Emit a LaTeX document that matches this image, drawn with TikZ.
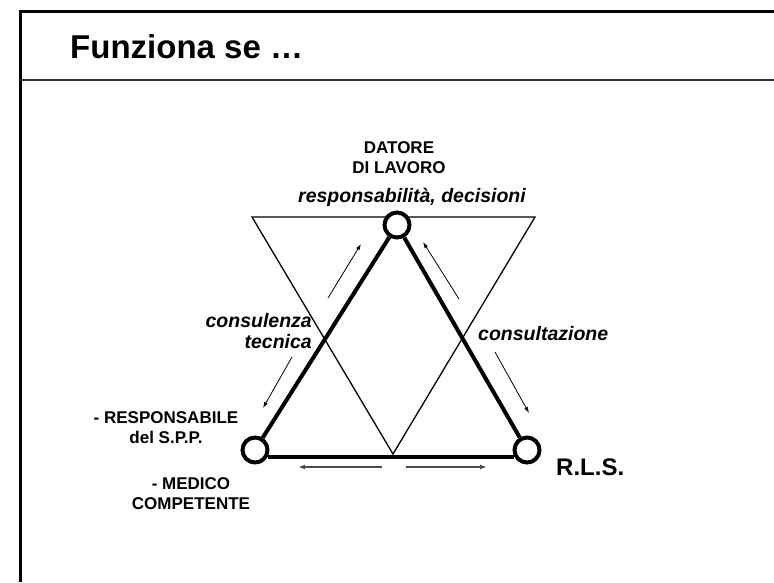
\documentclass[tikz,border=0pt]{standalone}
\usepackage{fontspec}
\setmainfont{Liberation Sans}
\usetikzlibrary{arrows.meta,positioning}
\tikzset{
  joint/.style={circle, draw, line width=4pt, fill=white,
                minimum size=25pt, inner sep=0pt},
  side/.style={line width=4pt},
  funnel/.style={line width=1.3pt, line join=miter},
  flow/.style={-{Latex[length=6pt,width=4pt]}, line width=0.8pt},
  flowgrey/.style={-{Latex[length=7pt,width=5pt]}, line width=2.2pt, draw=black!70},
  role/.style={font=\fontsize{17}{20}\selectfont\bfseries, align=center, inner sep=0pt},
  duty/.style={font=\fontsize{19.5}{21}\selectfont\bfseries\itshape, inner sep=0pt},
}

\begin{document}
\begin{tikzpicture}[x=1pt, y=-1pt]
  \useasboundingbox (0,0) rectangle (774,582);

  % slide frame
  \draw[line width=3pt] (20,582) -- (20,11) -- (774,11);
  \draw[line width=1.2pt, black!80] (20,80) -- (774,80);
  \node[anchor=base west, inner sep=0pt, font=\fontsize{33}{38}\selectfont\bfseries]
        (title) at (70,58) {Funziona se …};

  % inverted triangle
  \draw[funnel] (252,217) -- (535,217) -- (393,454) -- cycle;

  % the three roles
  \node[joint] (datore) at (397,225) {};
  \node[joint] (spp) at (255,450) {};
  \node[joint] (rls) at (527,450) {};

  \draw[side] (datore) -- (spp);
  \draw[side] (datore) -- (rls);
  \draw[side] (spp.-30) -- (rls.-150);

  % flows
  \draw[flow] (328,298) -- (361,244);
  \draw[flow] (459,299) -- (423,242);
  \draw[flow] (292,357) -- (263,408);
  \draw[flow] (495,352) -- (529,413);
  \draw[flowgrey] (382,467) -- (298,467);
  \draw[flowgrey] (406,467) -- (487,467);

  % labels
  \node[role, anchor=base] (datoreLbl) at (399,173) {DATORE\\DI LAVORO};
  \node[duty, anchor=base] (respLbl) at (412,202) {responsabilità, decisioni};
  \node[duty, anchor=base east, align=right] (consLbl) at (312,348) {consulenza\\tecnica};
  \node[duty, anchor=base west] (consultLbl) at (478,340) {consultazione};
  \node[role, anchor=base] (sppLbl) at (166,443) {- RESPONSABILE\\del S.P.P.};
  \node[role, anchor=base] (medLbl) at (191,509) {- MEDICO\\COMPETENTE};
  \node[anchor=base west, inner sep=0pt, font=\fontsize{24}{28}\selectfont\bfseries]
        (rlsLbl) at (556,475) {R.L.S.};
\end{tikzpicture}
\end{document}
